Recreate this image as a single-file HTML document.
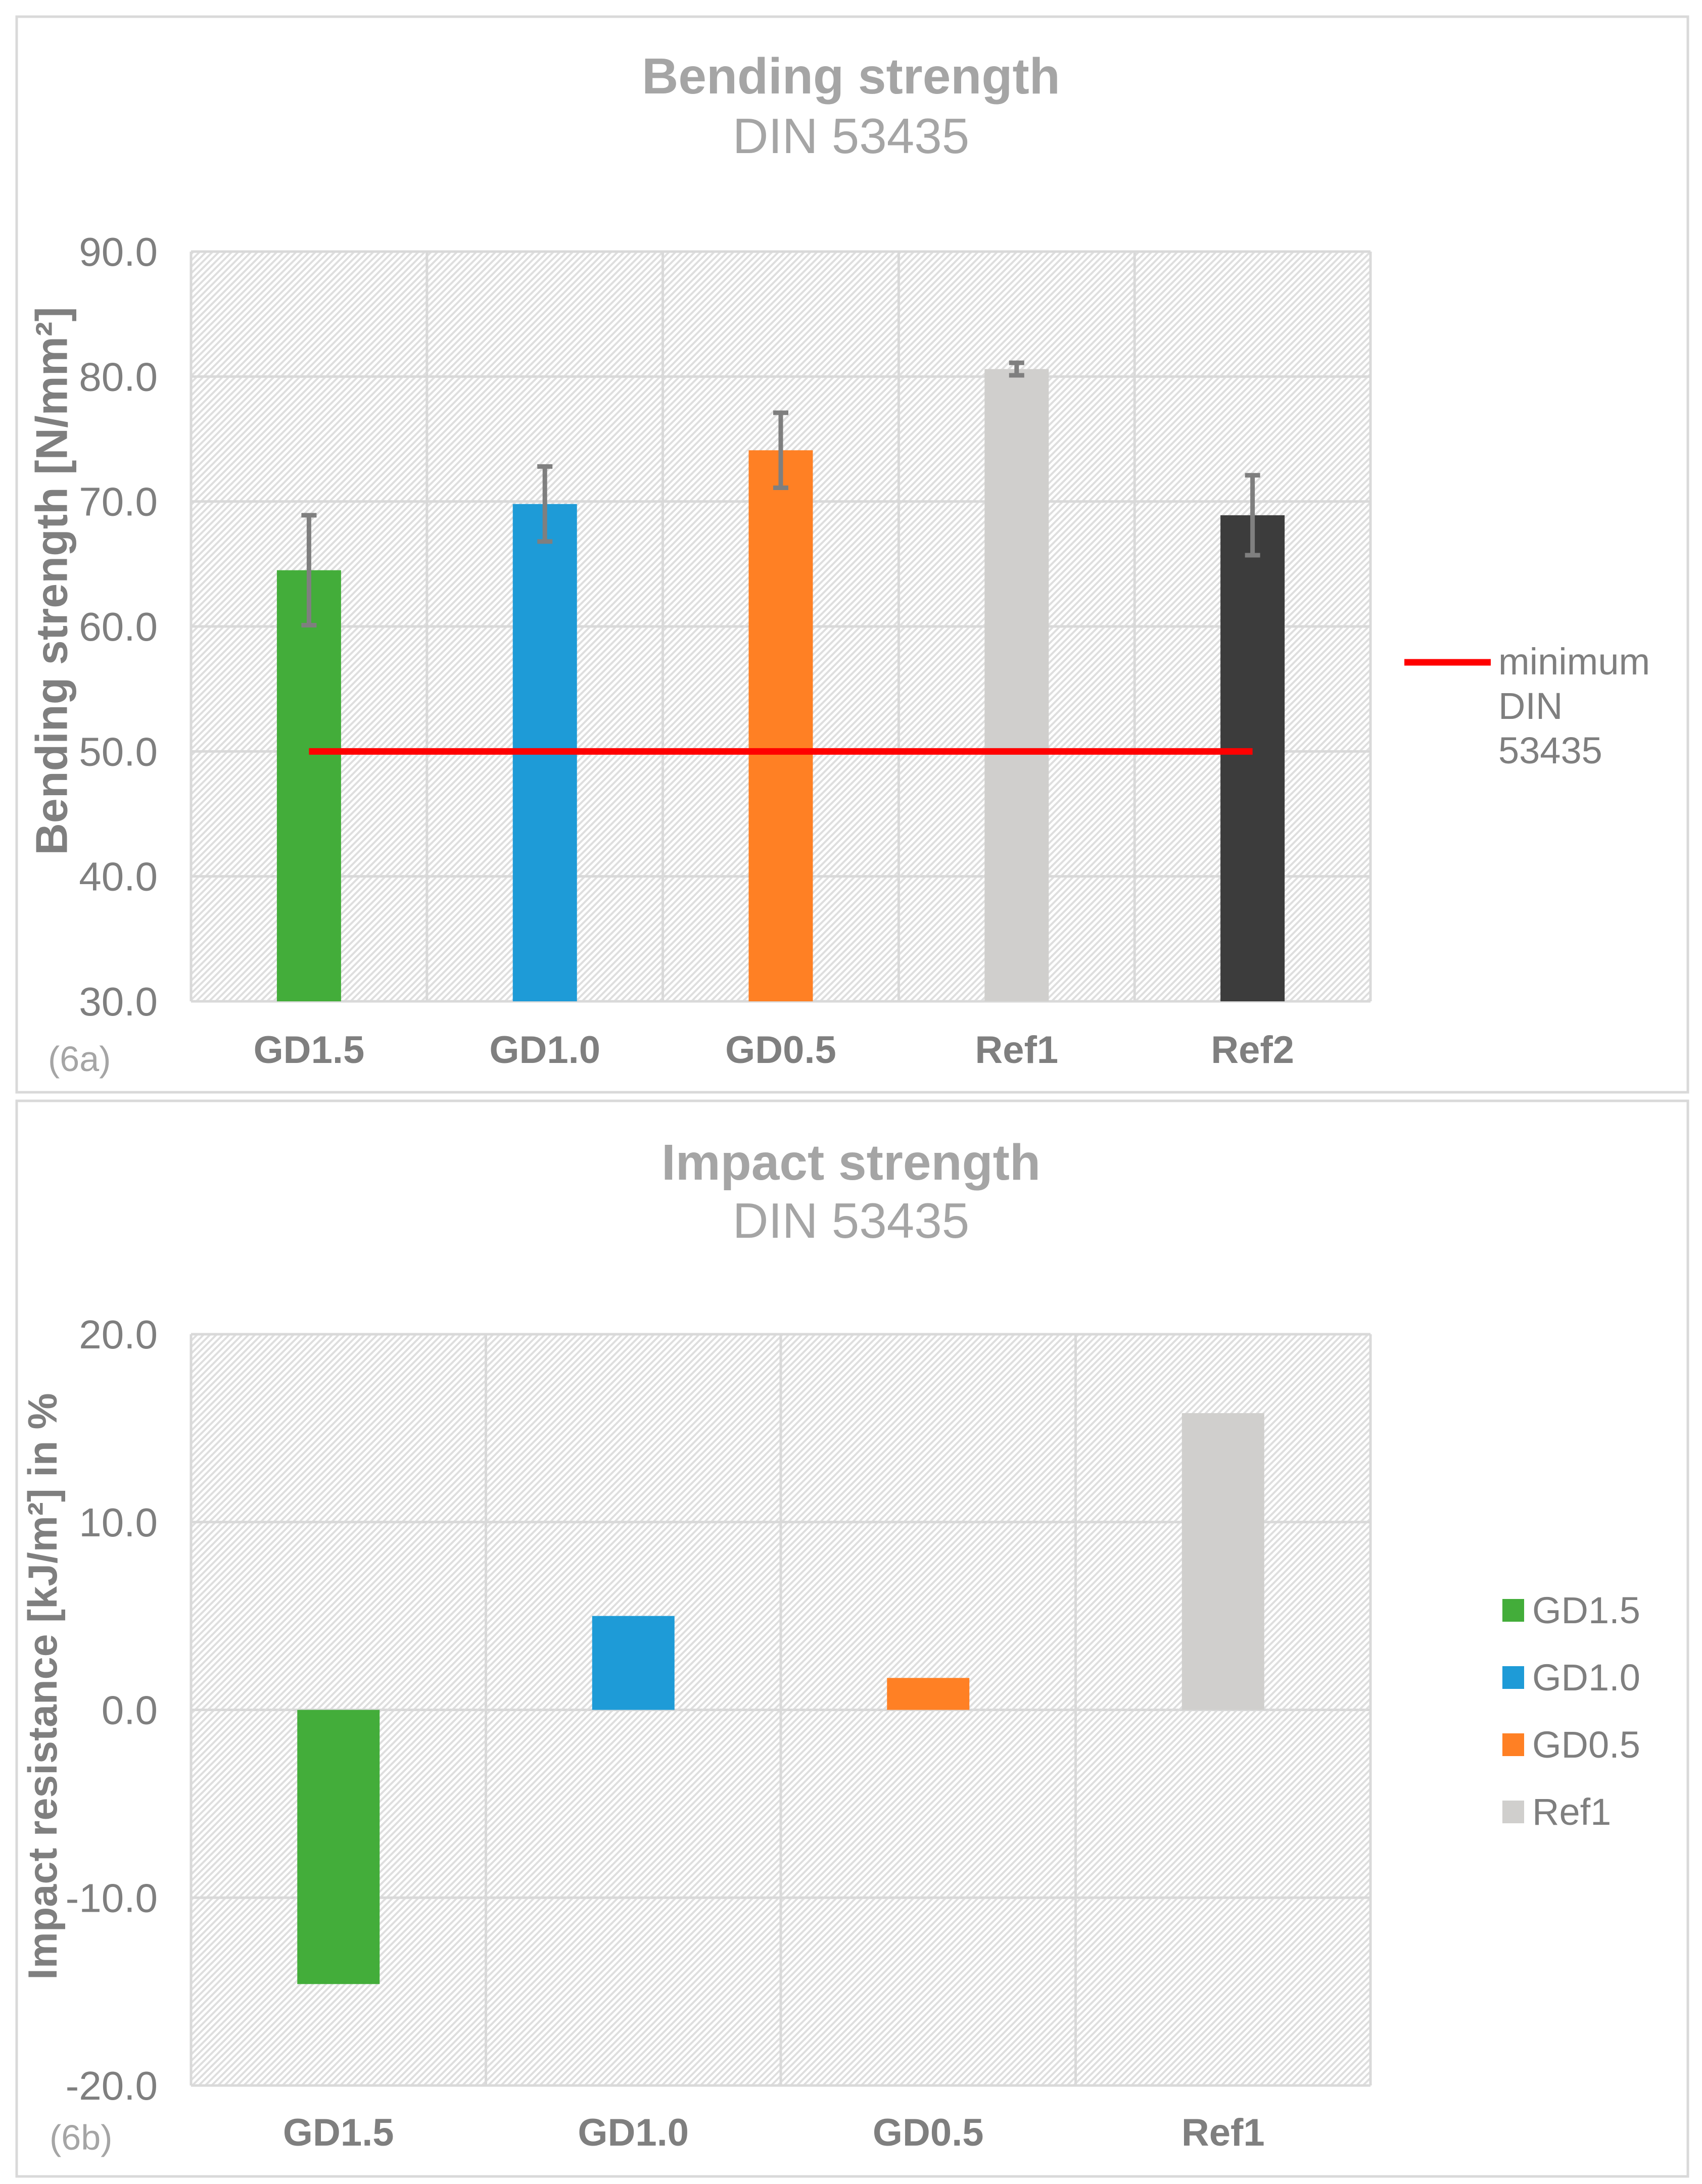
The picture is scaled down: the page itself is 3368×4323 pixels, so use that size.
<!DOCTYPE html>
<html><head><meta charset="utf-8"><style>
html,body{margin:0;padding:0;background:#fff}
svg{display:block;font-family:"Liberation Sans",Arial,sans-serif}
</style></head><body>
<svg id="s" width="3368" height="4323" viewBox="0 0 3368 4323" xmlns="http://www.w3.org/2000/svg">
<defs>
<pattern id="hatch" patternUnits="userSpaceOnUse" width="9" height="9" patternTransform="rotate(45)">
<rect width="9" height="9" fill="#ffffff"/>
<rect width="4" height="9" fill="#dedede"/>
</pattern>
</defs>
<rect x="33" y="33" width="3307" height="2129" fill="#fff" stroke="#d9d9d9" stroke-width="5"/>
<rect x="33" y="2179" width="3307" height="2129" fill="#fff" stroke="#d9d9d9" stroke-width="5"/>
<g id="ga"></g>
<g id="gb"></g>
</svg>
<script>
// Chart A data
const catsA = ["GD1.5","GD1.0","GD0.5","Ref1","Ref2"];
const valsA = [64.5, 69.8, 74.1, 80.6, 68.9];
const errA = [4.4, 3.0, 3.0, 0.5, 3.2];
const colorsA = ["#43ad3a","#1e9bd7","#ff8024","#d0cfcd","#3c3c3c"];
const ticksA = ["30.0","40.0","50.0","60.0","70.0","80.0","90.0"];
const minLine = 50;
// Chart B data
const catsB = ["GD1.5","GD1.0","GD0.5","Ref1"];
const valsB = [-14.6, 5.0, 1.7, 15.8];
const colorsB = ["#43ad3a","#1e9bd7","#ff8024","#d0cfcd"];
const ticksB = ["-20.0","-10.0","0.0","10.0","20.0"];

const NS="http://www.w3.org/2000/svg";
function mk(parent,tag,attrs,text){const e=document.createElementNS(NS,tag);for(const k in attrs)e.setAttribute(k,attrs[k]);if(text!==undefined)e.textContent=text;parent.appendChild(e);return e;}

function chart(g,o){
  const {L,R,T,B,min,max,cats,ticks}=o;
  const y=v=>B-(v-min)/(max-min)*(B-T);
  const bw=(R-L)/cats.length;
  const x=i=>L+bw*(i+0.5);
  let e=mk(g,"rect",{x:L,y:T,width:R-L,height:B-T,fill:"url(#hatch)"});
  
  
  ticks.forEach(t=>{const v=parseFloat(t);
    let l=mk(g,"line",{x1:L,x2:R,y1:y(v),y2:y(v),stroke:"#d9d9d9","stroke-width":5});
    
    
    let tx=mk(g,"text",{x:L-66,y:y(v)+28,"text-anchor":"end","font-size":80,fill:"#7f7f7f"},t);
    
    
  });
  for(let i=0;i<=cats.length;i++){
    let l=mk(g,"line",{x1:L+bw*i,x2:L+bw*i,y1:T,y2:B,stroke:"#d9d9d9","stroke-width":5});
    
    
  }
  cats.forEach((c,i)=>{
    let tx=mk(g,"text",{x:x(i),y:o.catY,"text-anchor":"middle","font-size":76,"font-weight":"bold",fill:"#7f7f7f"},c);
    
    
  });
  return {x,y,bw};
}

// Chart A
const ga=document.getElementById('ga');
let t=mk(ga,"text",{x:1684,y:185,"text-anchor":"middle","font-size":100,"font-weight":"bold",fill:"#a5a5a5"},"Bending strength");


t=mk(ga,"text",{x:1684,y:303,"text-anchor":"middle","font-size":98,fill:"#a5a5a5"},"DIN 53435");


const A=chart(ga,{L:378,R:2712,T:498,B:1982,min:30,max:90,cats:catsA,ticks:ticksA,catY:2104});
const bwA=127;
valsA.forEach((v,i)=>{
  let r=mk(ga,"rect",{x:A.x(i)-bwA/2,y:A.y(v),width:bwA,height:A.y(30)-A.y(v),fill:colorsA[i]});
  
  
  const cx=A.x(i), hi=A.y(v+errA[i]), lo=A.y(v-errA[i]);
  let eb=mk(ga,"path",{d:`M${cx},${hi}V${lo}M${cx-15},${hi}H${cx+15}M${cx-15},${lo}H${cx+15}`,stroke:"#7f7f7f","stroke-width":9,fill:"none"});
  
  
});
let ml=mk(ga,"line",{x1:A.x(0),x2:A.x(catsA.length-1),y1:A.y(minLine),y2:A.y(minLine),stroke:"#ff0000","stroke-width":13});


t=mk(ga,"text",{x:102,y:1150,"text-anchor":"middle","dominant-baseline":"central","font-size":88,"font-weight":"bold",fill:"#7f7f7f",transform:"rotate(-90 102 1150)"},"Bending strength [N/mm²]");


t=mk(ga,"text",{x:95,y:2120,"font-size":70,fill:"#a5a5a5"},"(6a)");


let lg=mk(ga,"line",{x1:2779,x2:2950,y1:1311,y2:1311,stroke:"#ff0000","stroke-width":13});


["minimum","DIN","53435"].forEach((s,k)=>{
  let tt=mk(ga,"text",{x:2965,y:1335+k*88,"font-size":74,fill:"#7f7f7f"},s);
  
  
});

// Chart B
const gb=document.getElementById('gb');
t=mk(gb,"text",{x:1684,y:2335,"text-anchor":"middle","font-size":100,"font-weight":"bold",fill:"#a5a5a5"},"Impact strength");


t=mk(gb,"text",{x:1684,y:2450,"text-anchor":"middle","font-size":98,fill:"#a5a5a5"},"DIN 53435");


const Bc=chart(gb,{L:378,R:2712,T:2641,B:4128,min:-20,max:20,cats:catsB,ticks:ticksB,catY:4247});
const bwB=163;
valsB.forEach((v,i)=>{
  const y0=Bc.y(0), yv=Bc.y(v);
  let r=mk(gb,"rect",{x:Bc.x(i)-bwB/2,y:Math.min(y0,yv),width:bwB,height:Math.abs(y0-yv),fill:colorsB[i]});
  
  
});
t=mk(gb,"text",{x:85,y:3338,"text-anchor":"middle","dominant-baseline":"central","font-size":81,"font-weight":"bold",fill:"#7f7f7f",transform:"rotate(-90 85 3338)"},"Impact resistance [kJ/m²] in %");


t=mk(gb,"text",{x:98,y:4255,"font-size":70,fill:"#a5a5a5"},"(6b)");


catsB.forEach((c,i)=>{
  let sw=mk(gb,"rect",{x:2973,y:3165+i*133,width:43,height:45,fill:colorsB[i]});
  
  
  let tt=mk(gb,"text",{x:3032,y:3213+i*133,"font-size":74,fill:"#7f7f7f"},c);
  
  
});
</script>
</body></html>
